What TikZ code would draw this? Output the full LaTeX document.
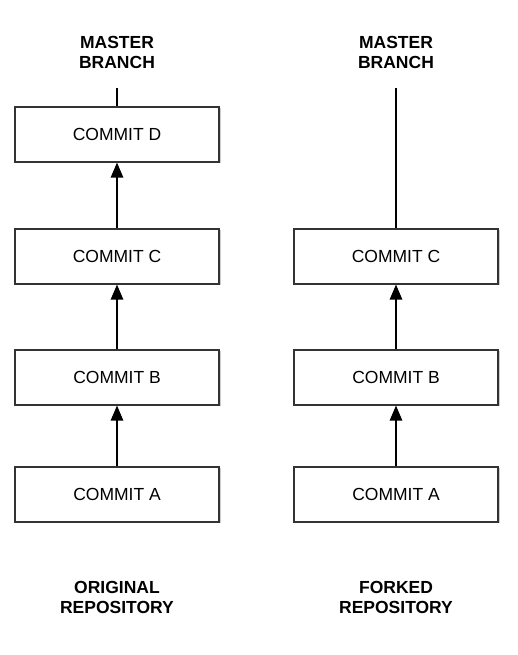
\documentclass[tikz,border=0pt]{standalone}
\usepackage{fontspec}
\setmainfont{Liberation Sans}
\usetikzlibrary{positioning,arrows.meta,shadows}

\begin{document}
\begin{tikzpicture}[x=1pt,y=1pt,
  commit/.style={draw=black!80, line width=1.2pt, fill=white,
    minimum width=204pt, minimum height=55pt, inner sep=0pt,
    font=\fontsize{17.5}{20}\selectfont,
    drop shadow={shadow xshift=1.5pt, shadow yshift=-1.5pt, fill=black!40, opacity=0.5}},
  repolabel/.style={align=center, font=\bfseries\fontsize{17.5}{20}\selectfont},
  link/.style={line width=1.2pt, -{Triangle[length=15pt,width=12.5pt]}}]

\useasboundingbox (0,0) rectangle (517,655);

\def\shiftone{117}
\def\shifttwo{396}

% original repository
\node[repolabel] (masterL) at (\shiftone,603) {MASTER\\BRANCH};
\coordinate (headL) at (\shiftone,567);
\node[commit] (dL) at (\shiftone,520.5) {COMMIT D};
\node[commit] (cL) at (\shiftone,398.5) {COMMIT C};
\node[commit] (bL) at (\shiftone,277.5) {COMMIT B};
\node[commit] (aL) at (\shiftone,160.5) {COMMIT A};
\node[repolabel] (origL) at (\shiftone,58) {ORIGINAL\\REPOSITORY};

\draw[line width=1.2pt] (headL) -- (dL.north);
\draw[link] (cL.north) -- (dL.south);
\draw[link] (bL.north) -- (cL.south);
\draw[link] (aL.north) -- (bL.south);

% forked repository
\node[repolabel] (masterR) at (\shifttwo,603) {MASTER\\BRANCH};
\coordinate (headR) at (\shifttwo,567);
\node[commit] (cR) at (\shifttwo,398.5) {COMMIT C};
\node[commit] (bR) at (\shifttwo,277.5) {COMMIT B};
\node[commit] (aR) at (\shifttwo,160.5) {COMMIT A};
\node[repolabel] (forkR) at (\shifttwo,58) {FORKED\\REPOSITORY};

\draw[line width=1.2pt] (headR) -- (cR.north);
\draw[link] (bR.north) -- (cR.south);
\draw[link] (aR.north) -- (bR.south);

\end{tikzpicture}
\end{document}
